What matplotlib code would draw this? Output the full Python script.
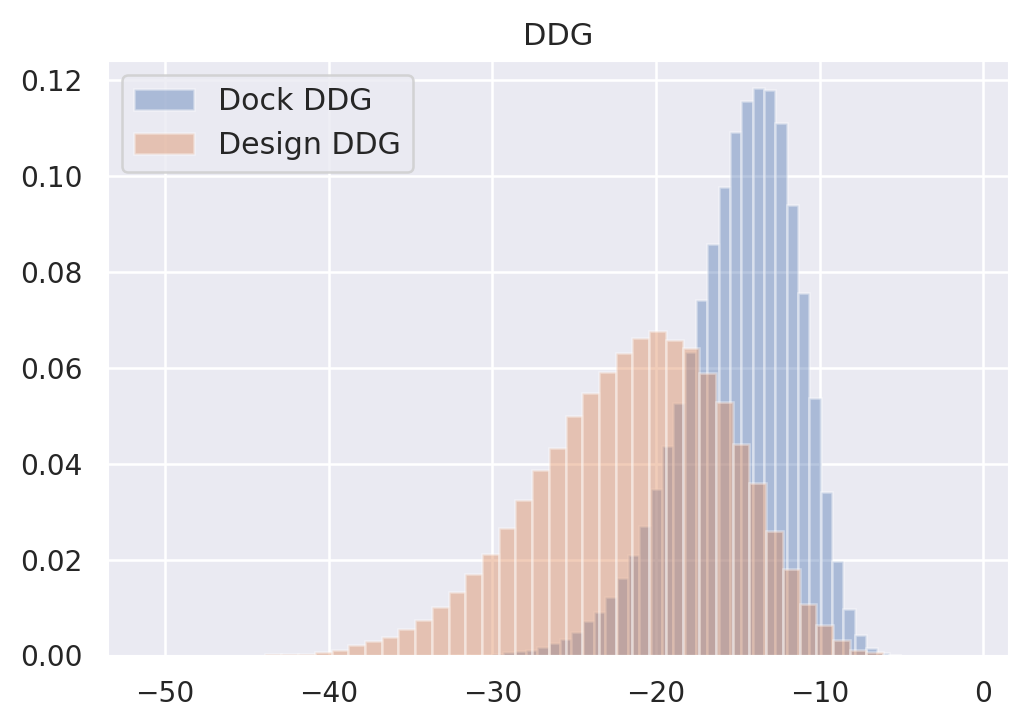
import numpy as np
import matplotlib
matplotlib.use("Agg")
import matplotlib.pyplot as plt
import seaborn as sns

# ---- data (density per bin) ----
dock_first_edge = -39.71
dock_bin_width = 0.6925
dock_density = [
    0.0, 0.0, 0.0, 0.0, 0.0, 0.0, 0.0, 0.0,
    0.0, 0.0, 0.0001, 0.0001, 0.0001, 0.0002, 0.0003,
    0.0007, 0.0010, 0.0011, 0.0017, 0.0026, 0.0035, 0.0050, 0.0071,
    0.0091, 0.0121, 0.0162, 0.0210, 0.0271, 0.0347, 0.0436, 0.0527,
    0.0633, 0.0742, 0.0858, 0.0977, 0.1092, 0.1157, 0.1183, 0.1180,
    0.1110, 0.0940, 0.0757, 0.0538, 0.0341, 0.0198, 0.0097, 0.0042,
    0.0015, 0.0006, 0.0002,
]

design_first_edge = -43.90
design_bin_width = 1.021
design_density = [
    0.0003, 0.0004, 0.0004, 0.0007, 0.0012, 0.0022, 0.0030, 0.0039,
    0.0056, 0.0074, 0.0101, 0.0133, 0.0171, 0.0212, 0.0265, 0.0324,
    0.0386, 0.0433, 0.0500, 0.0547, 0.0591, 0.0630, 0.0662, 0.0677,
    0.0658, 0.0641, 0.0589, 0.0528, 0.0442, 0.0360, 0.0260, 0.0181,
    0.0108, 0.0063, 0.0033, 0.0011, 0.0007, 0.0002,
]

series_labels = ["Dock DDG", "Design DDG"]
title = "DDG"
x_ticks = [-50, -40, -30, -20, -10, 0]


def edges_from(first, width, n):
    return first + width * np.arange(n + 1)


sns.set_theme(style="darkgrid")
plt.rcParams["font.family"] = ["DejaVu Sans"]

DPI = 183
fig = plt.figure(figsize=(1011 / DPI, 711 / DPI), dpi=DPI)
ax = fig.add_axes([106.7 / 1011, 55.5 / 711, (1009 - 106.7) / 1011, (655.5 - 60) / 711])

for first, width, dens, lab in [
    (dock_first_edge, dock_bin_width, dock_density, series_labels[0]),
    (design_first_edge, design_bin_width, design_density, series_labels[1]),
]:
    edges = edges_from(first, width, len(dens))
    centers = 0.5 * (edges[:-1] + edges[1:])
    ax.hist(centers, bins=edges, weights=dens, alpha=0.4, label=lab)

ax.set_xlim(-53.55, 1.57)
ax.set_ylim(0, 0.1242)
ax.set_xticks(x_ticks)
ax.set_title(title)
ax.legend(loc="upper left", fontsize=11.8)

fig.savefig("out.png", dpi=DPI)
